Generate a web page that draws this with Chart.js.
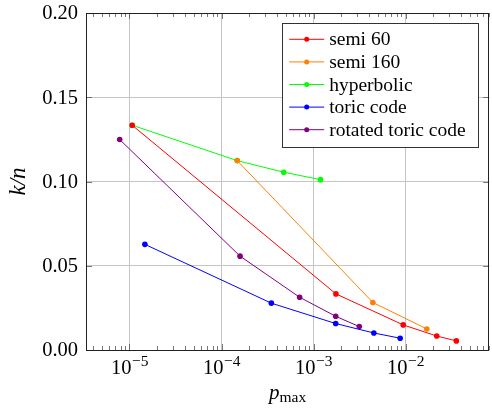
<!DOCTYPE html>
<html><head><meta charset="utf-8">
<script src="https://cdn.jsdelivr.net/npm/chart.js@4/dist/chart.umd.min.js"></script>
<style>html,body{margin:0;padding:0;background:#fff}#wrap{width:492px;height:409px;position:relative}</style>
</head><body><div id="wrap"><canvas id="c"></canvas></div>
<script>
const seriesNames = ['semi 60', 'semi 160', 'hyperbolic', 'toric code', 'rotated toric code'];
const seriesColors = ['#ff0000', '#ff8000', '#00ff00', '#0000ff', '#800080'];
const semi60P = [1.07e-5, 1.75e-3, 9.42e-3, 2.18e-2, 3.56e-2];
const semi60K = [0.1334, 0.0333, 0.0149, 0.0083, 0.0054];
const semi160P = [1.48e-4, 4.41e-3, 1.70e-2];
const semi160K = [0.1124, 0.0282, 0.0125];
const hyperbolicP = [1.07e-5, 1.48e-4, 4.74e-4, 1.19e-3];
const hyperbolicK = [0.1334, 0.1124, 0.1055, 0.1011];
const toricP = [1.47e-5, 3.48e-4, 1.74e-3, 4.52e-3, 8.73e-3];
const toricK = [0.0627, 0.0278, 0.0157, 0.0101, 0.0070];
const rotatedP = [7.83e-6, 1.59e-4, 7.06e-4, 1.74e-3, 3.14e-3];
const rotatedK = [0.1249, 0.0557, 0.0313, 0.0200, 0.0139];
const xDecades = [1e-5, 1e-4, 1e-3, 1e-2];
const xDecadeExp = ['\u22125', '\u22124', '\u22123', '\u22122'];
const yTicks = [0, 0.05, 0.10, 0.15, 0.20];
const yTickLabels = ['0.00', '0.05', '0.10', '0.15', '0.20'];
const xMin = 3.37e-6, xMax = 8.1e-2;

const allP = [semi60P, semi160P, hyperbolicP, toricP, rotatedP];
const allK = [semi60K, semi160K, hyperbolicK, toricK, rotatedK];

const FAM = '"Liberation Serif"';
function F(size, style) { return (style ? style + ' ' : '') + size + 'px ' + FAM; }

const datasets = seriesNames.map((name, i) => ({
  label: name,
  data: allP[i].map((p, j) => ({x: p, y: allK[i][j]})),
  borderColor: seriesColors[i],
  backgroundColor: seriesColors[i],
  borderWidth: 1,
  pointRadius: 2.8,
  pointBorderWidth: 0,
  pointHoverRadius: 2.8,
  tension: 0,
  fill: false
}));

const decor = {
  id: 'decor',
  afterDraw(chart) {
    const ctx = chart.ctx, a = chart.chartArea;
    const xs = chart.scales.x, ys = chart.scales.y;
    ctx.save();
    ctx.strokeStyle = '#555';
    ctx.lineWidth = 0.8;
    const lo = Math.floor(Math.log10(xMin)), hi = Math.ceil(Math.log10(xMax));
    for (let e = lo; e <= hi; e++) {
      for (let m = 1; m <= 9; m++) {
        const v = m * Math.pow(10, e);
        if (v < xMin || v > xMax) continue;
        const px = Math.round(xs.getPixelForValue(v)) + 0.5;
        const len = m === 1 ? 6 : 4;
        ctx.beginPath();
        ctx.moveTo(px, a.bottom); ctx.lineTo(px, a.bottom - len);
        ctx.moveTo(px, a.top); ctx.lineTo(px, a.top + len);
        ctx.stroke();
      }
    }
    yTicks.forEach(v => {
      const py = Math.round(ys.getPixelForValue(v)) + 0.5;
      ctx.beginPath();
      ctx.moveTo(a.left, py); ctx.lineTo(a.left + 6, py);
      ctx.moveTo(a.right, py); ctx.lineTo(a.right - 6, py);
      ctx.stroke();
    });
    ctx.strokeStyle = '#222';
    ctx.lineWidth = 1;
    ctx.strokeRect(Math.round(a.left) + 0.5, Math.round(a.top) + 0.5,
                   Math.round(a.right - a.left) - 1, Math.round(a.bottom - a.top));
    ctx.fillStyle = '#000';
    ctx.font = F(20.5);
    ctx.textAlign = 'right';
    ctx.textBaseline = 'middle';
    yTicks.forEach((v, i) => {
      ctx.fillText(yTickLabels[i], a.left - 8, ys.getPixelForValue(v) + 1);
    });
    ctx.textBaseline = 'alphabetic';
    xDecades.forEach((v, i) => {
      const px = xs.getPixelForValue(v);
      ctx.font = F(20.5);
      const w1 = ctx.measureText('10').width;
      ctx.font = F(15.5);
      const w2 = ctx.measureText(xDecadeExp[i]).width;
      const x0 = px - (w1 + w2) / 2;
      ctx.font = F(20.5);
      ctx.textAlign = 'left';
      ctx.fillText('10', x0, a.bottom + 24);
      ctx.font = F(15.5);
      ctx.fillText(xDecadeExp[i], x0 + w1 + 0.5, a.bottom + 16);
    });
    const cx = (a.left + a.right) / 2;
    ctx.font = F(21, 'italic');
    const wp = ctx.measureText('p').width;
    ctx.font = F(15.5);
    const wm = ctx.measureText('max').width;
    const tx0 = cx - (wp + wm) / 2;
    ctx.font = F(21, 'italic');
    ctx.fillText('p', tx0, a.bottom + 49);
    ctx.font = F(15.5);
    ctx.fillText('max', tx0 + wp, a.bottom + 52);
    ctx.save();
    ctx.translate(25, (a.top + a.bottom) / 2);
    ctx.rotate(-Math.PI / 2);
    ctx.font = F(23, 'italic');
    ctx.textAlign = 'center';
    ctx.fillText('k/n', 0, 0);
    ctx.restore();
    const lw = 196, lh = 124;
    const lx = a.right - 11 - lw, ly = a.top + 10;
    ctx.fillStyle = '#fff';
    ctx.fillRect(lx, ly, lw, lh);
    ctx.strokeStyle = '#333';
    ctx.lineWidth = 1;
    ctx.strokeRect(Math.round(lx) + 0.5, Math.round(ly) + 0.5, lw, lh);
    chart.data.datasets.forEach((ds, i) => {
      const yy = ly + 16.3 + i * 22.6;
      ctx.strokeStyle = ds.borderColor;
      ctx.lineWidth = 1;
      ctx.beginPath();
      ctx.moveTo(lx + 7, yy); ctx.lineTo(lx + 42, yy);
      ctx.stroke();
      ctx.fillStyle = ds.borderColor;
      ctx.beginPath();
      ctx.arc(lx + 24.5, yy, 2.5, 0, Math.PI * 2);
      ctx.fill();
      ctx.fillStyle = '#000';
      ctx.font = F(19.5);
      ctx.textAlign = 'left';
      ctx.textBaseline = 'middle';
      ctx.fillText(ds.label, lx + 47, yy + 1);
    });
    ctx.restore();
  }
};

new Chart(document.getElementById('c'), {
  type: 'line',
  data: {datasets},
  options: {
    responsive: true,
    maintainAspectRatio: false,
    animation: false,
    events: [],
    layout: {padding: {top: 13, right: 2, left: 0, bottom: 0}},
    plugins: {legend: {display: false}, tooltip: {enabled: false}},
    scales: {
      x: {
        type: 'logarithmic',
        min: xMin, max: xMax,
        afterBuildTicks: s => { s.ticks = xDecades.map(v => ({value: v})); },
        afterFit: s => { s.height = 59; },
        ticks: {display: false},
        grid: {color: '#c4c4c4', lineWidth: 1, drawTicks: false},
        border: {display: false}
      },
      y: {
        min: 0, max: 0.2,
        afterBuildTicks: s => { s.ticks = yTicks.map(v => ({value: v})); },
        afterFit: s => { s.width = 86; },
        ticks: {display: false},
        grid: {color: '#c4c4c4', lineWidth: 1, drawTicks: false},
        border: {display: false}
      }
    }
  },
  plugins: [decor]
});
</script>
</body></html>
